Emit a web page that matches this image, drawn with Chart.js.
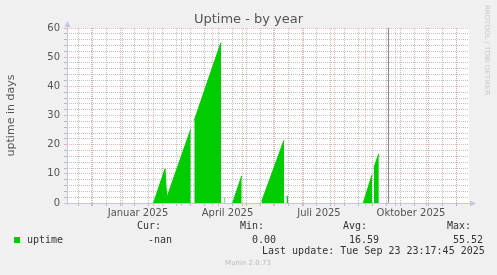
<!DOCTYPE html>
<html>
<head>
<meta charset="utf-8">
<title>Uptime - by year</title>
<script src="https://cdn.jsdelivr.net/npm/chart.js@4/dist/chart.umd.min.js"></script>
<style>
  body { margin: 0; background: #f0f0f0; }
  #wrap { position: relative; width: 497px; height: 275px; overflow: hidden; }
  #wrap canvas { position: absolute; left: 0; top: 0; }
  .txt { position: absolute; white-space: pre; }
  .mono { font: 10px "DejaVu Sans Mono", monospace; color: #333; line-height: 12px; }
  #title { left: 0; width: 497px; top: 11px; text-align: center; font: 13px "DejaVu Sans", sans-serif; color: #555; line-height: 16px; }
  #swatch { position: absolute; left: 14px; top: 237px; width: 6px; height: 6px; background: #00cc00; }
  #munin { left: 0; width: 496px; top: 259px; text-align: center; font: 7px "DejaVu Sans", sans-serif; color: #bbb; line-height: 9px; }
  #rrd { left: 491px; top: 5px; font: 7px "DejaVu Sans", sans-serif; color: #c8c8c8; line-height: 8px;
         transform-origin: 0 0; transform: rotate(90deg); }
</style>
</head>
<body>
<div id="wrap">
  <canvas id="chart"></canvas>
  <div class="txt" id="title">Uptime - by year</div>
  <div class="txt" id="rrd">RRDTOOL / TOBI OETIKER</div>
  <div id="swatch"></div>
  <div class="txt mono" style="left:137px; top:220px">Cur:</div>
  <div class="txt mono" style="left:240px; top:220px">Min:</div>
  <div class="txt mono" style="left:343px; top:220px">Avg:</div>
  <div class="txt mono" style="left:447px; top:220px">Max:</div>
  <div class="txt mono" style="left:27px; top:234px">uptime</div>
  <div class="txt mono" style="left:148px; top:234px">-nan</div>
  <div class="txt mono" style="left:252px; top:234px">0.00</div>
  <div class="txt mono" style="left:349px; top:234px">16.59</div>
  <div class="txt mono" style="left:453px; top:234px">55.52</div>
  <div class="txt mono" style="left:262px; top:245px">Last update: Tue Sep 23 23:17:45 2025</div>
  <div class="txt" id="munin">Munin 2.0.73</div>
</div>
<script>
// days counted from 1 Jan 2025
const upDays =   [31, 42.5, 44.2, 68.2, 68.3, 71.8, 98.5, 98.6, 101.4, 102.2, 102.3, 110.2, 119.2, 119.3, 139.2, 161.5, 161.6, 164, 165.5, 165.6, 240.8, 249.5, 249.6, 251.5, 256.3];
const upValues = [0, 11.7, 1.7, 25.2, null, 28.3, 55, null, 1.7, 1.7, null, 0, 9.3, null, 0.5, 21.5, null, 2.3, 2.3, null, 0, 9.6, null, 12.2, 16.9];

const monthDays = [-31, 0, 31, 59, 90, 120, 151, 181, 212, 243, 273, 304, 334];
const labelDays = [15.5, 105, 196.5, 288.5];
const labelTexts = ['Januar 2025', 'April 2025', 'Juli 2025', 'Oktober 2025'];
const nowDay = 265.97;

const xMin = -55.5;
const xMax = 346.5;

const fortnightDays = [];
for (let d = -44.5; d < xMax; d += 14) {
    fortnightDays.push(d);
}

const majorGrid = 'rgba(230, 140, 140, 0.6)';
const minorGrid = 'rgba(140, 140, 140, 0.55)';
const axisColor = '#c4c4f0';

const plotBackground = {
    id: 'plotBackground',
    beforeDraw(chart) {
        const { ctx, chartArea: a } = chart;
        ctx.save();
        ctx.fillStyle = '#ffffff';
        ctx.fillRect(a.left, a.top, a.right - a.left, a.bottom - a.top);
        ctx.restore();
    }
};

const nowLine = {
    id: 'nowLine',
    afterDatasetsDraw(chart) {
        const { ctx, chartArea: a } = chart;
        const x = Math.round(chart.scales.x.getPixelForValue(nowDay)) + 0.5;
        ctx.save();
        ctx.strokeStyle = '#8c8c8c';
        ctx.lineWidth = 1;
        ctx.beginPath();
        ctx.moveTo(x, a.top);
        ctx.lineTo(x, a.bottom);
        ctx.stroke();
        ctx.restore();
    }
};

const axisArrows = {
    id: 'axisArrows',
    afterDraw(chart) {
        const { ctx, chartArea: a } = chart;
        const left = Math.round(a.left) + 0.5;
        const bottom = Math.round(a.bottom) + 0.5;
        ctx.save();
        ctx.strokeStyle = axisColor;
        ctx.fillStyle = axisColor;
        ctx.lineWidth = 1;
        ctx.beginPath();
        ctx.moveTo(left, a.bottom + 2);
        ctx.lineTo(left, a.top - 2);
        ctx.moveTo(a.left - 2, bottom);
        ctx.lineTo(a.right + 2, bottom);
        ctx.stroke();
        // arrow heads
        ctx.beginPath();
        ctx.moveTo(left - 3, a.top - 1);
        ctx.lineTo(left + 3, a.top - 1);
        ctx.lineTo(left, a.top - 7);
        ctx.closePath();
        ctx.fill();
        ctx.beginPath();
        ctx.moveTo(a.right + 1, bottom - 3);
        ctx.lineTo(a.right + 1, bottom + 3);
        ctx.lineTo(a.right + 7, bottom);
        ctx.closePath();
        ctx.fill();
        ctx.restore();
    }
};

const tickFont = { family: 'DejaVu Sans', size: 10 };

new Chart(document.getElementById('chart'), {
    type: 'line',
    data: {
        datasets: [{
            data: upDays.map((d, i) => ({ x: d, y: upValues[i] })),
            borderColor: '#00cc00',
            backgroundColor: '#00cc00',
            borderWidth: 1,
            fill: 'origin',
            pointRadius: 0,
            tension: 0,
            spanGaps: false
        }]
    },
    options: {
        responsive: true,
        maintainAspectRatio: false,
        animation: false,
        layout: { padding: { left: 0, top: 28, right: 28, bottom: 0 } },
        plugins: {
            legend: { display: false },
            tooltip: { enabled: false },
            title: { display: false }
        },
        scales: {
            x: {
                type: 'linear',
                min: xMin,
                max: xMax,
                afterFit: s => { s.height = 72; },
                afterBuildTicks: s => {
                    const vals = monthDays.concat(fortnightDays, labelDays)
                        .filter(v => v >= xMin && v <= xMax)
                        .sort((p, q) => p - q);
                    s.ticks = vals.map(v => ({ value: v }));
                },
                grid: {
                    color: c => {
                        const v = c.tick ? c.tick.value : null;
                        if (monthDays.includes(v)) return majorGrid;
                        if (labelDays.includes(v)) return 'rgba(0,0,0,0)';
                        return minorGrid;
                    },
                    tickLength: 3
                },
                border: { display: false, dash: [1, 1] },
                ticks: {
                    autoSkip: false,
                    maxRotation: 0,
                    minRotation: 0,
                    padding: 1,
                    font: tickFont,
                    color: '#555',
                    callback: v => {
                        const i = labelDays.indexOf(v);
                        return i >= 0 ? labelTexts[i] : '';
                    }
                }
            },
            y: {
                min: 0,
                max: 60,
                afterFit: s => { s.width = 67; },
                grid: {
                    color: c => (c.tick && c.tick.value % 10 === 0) ? majorGrid : minorGrid,
                    tickLength: 3
                },
                border: { display: false, dash: [1, 1] },
                ticks: {
                    stepSize: 2,
                    autoSkip: false,
                    padding: 4,
                    font: tickFont,
                    color: '#555',
                    callback: v => (v % 10 === 0 ? v : '')
                },
                title: {
                    display: true,
                    text: 'uptime in days',
                    font: { family: 'DejaVu Sans', size: 11 },
                    color: '#555',
                    padding: { top: 5, bottom: 0 }
                }
            }
        }
    },
    plugins: [plotBackground, nowLine, axisArrows]
});
</script>
</body>
</html>
